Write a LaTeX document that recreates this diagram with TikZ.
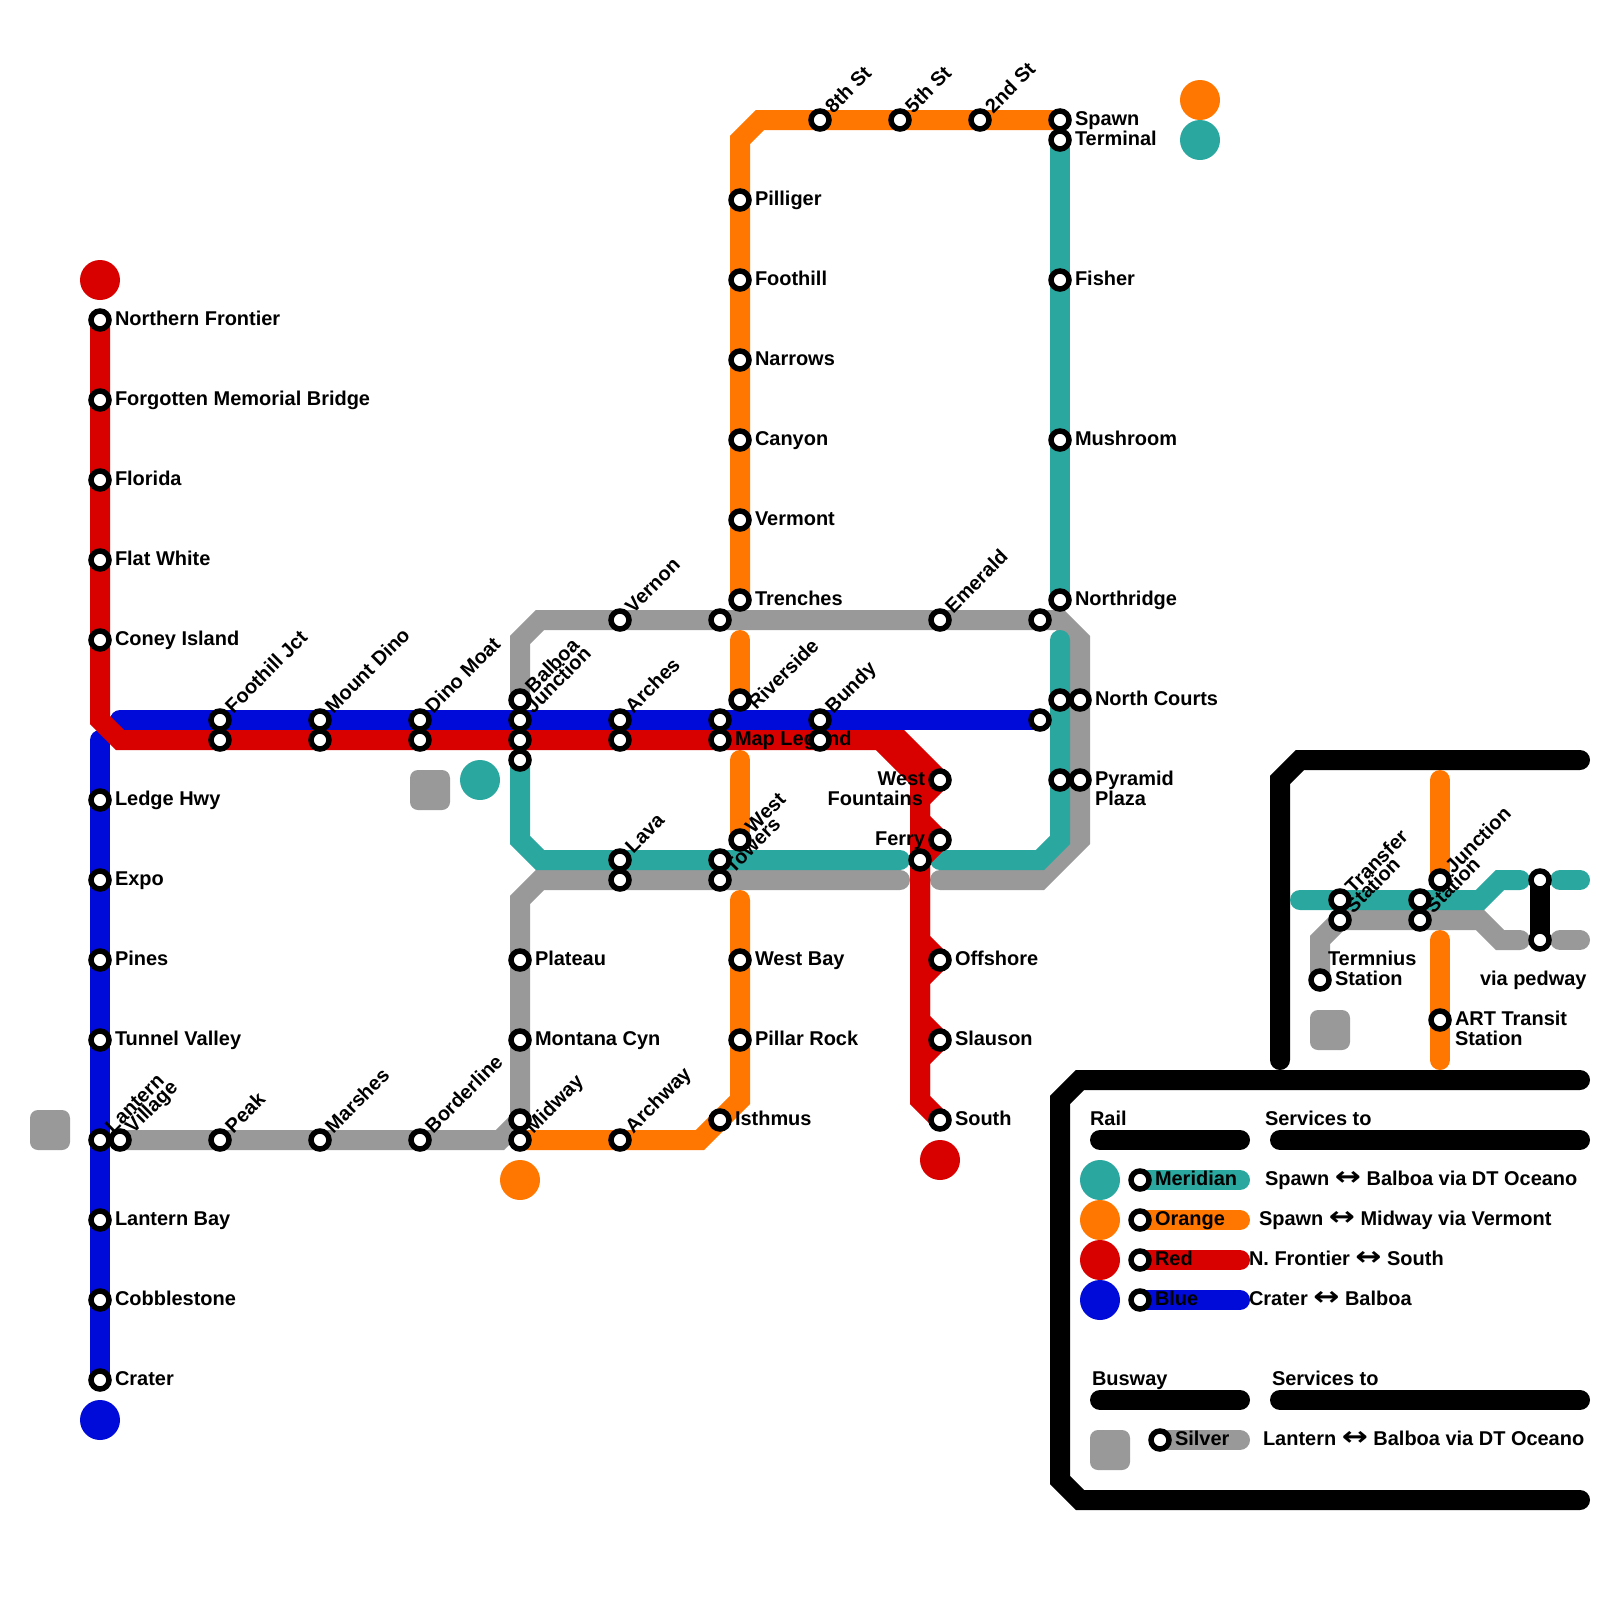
\documentclass[tikz,border=0pt]{standalone}
\usepackage{fontspec}
\setmainfont{Liberation Sans}
\newfontfamily\arrfont{DejaVu Sans}
\definecolor{cteal}{HTML}{2AA79F}
\definecolor{corange}{HTML}{FF7700}
\definecolor{cred}{HTML}{D90000}
\definecolor{cblue}{HTML}{000BD9}
\definecolor{cgray}{HTML}{999999}
\pgfdeclarelayer{lines}
\pgfdeclarelayer{labels}
\pgfsetlayers{lines,labels,main}
\tikzset{
  stn/.style={circle,draw=black,fill=white,line width=0.1375cm,minimum size=0.45cm,inner sep=0pt},
  lab/.style={inner sep=0pt,outer sep=0pt,text=black,font=\fontsize{14.2pt}{14.2pt}\selectfont\bfseries},
  route/.style={line width=0.5cm,line cap=round,line join=miter,miter limit=1.2},
  term/.style={circle,minimum size=1cm,inner sep=0pt},
  busterm/.style={rectangle,rounded corners=0.2cm,minimum size=1cm,inner sep=0pt,fill=cgray}
}
\newcommand\arr{\raisebox{-0.3pt}{\scalebox{1.2}[1]{\fontsize{18.5pt}{14pt}\selectfont\arrfont\bfseries ↔}}}
\newcommand\stn[3]{\node[stn] (#1) at (#2,#3) {};}
\newcommand\lr[2]{\node[lab,anchor=base west] (L#1) at ([shift={(.375cm,-.135cm)}]#1.center) {#2};}
\newcommand\lrr[3]{\node[lab,anchor=base west] (L#1) at ([shift={(.375cm,-.135cm)}]#1.center) {#2};
  \node[lab,anchor=base west] (LL#1) at ([shift={(.375cm,-.635cm)}]#1.center) {#3};}
\newcommand\ld[2]{\node[lab,anchor=base west,rotate=45] (L#1) at ([shift={(.335cm,.15cm)}]#1.center) {#2};}
\newcommand\tx[4]{\node[lab,anchor=base west] (#1) at (#2,#3) {#4};}
\begin{document}
\begin{tikzpicture}[x=0.5cm,y=-0.5cm]
\useasboundingbox (0,0) rectangle (80,80);
% ---- red stations
\stn{nf}{5}{16}\stn{fmb}{5}{20}\stn{flo}{5}{24}\stn{flw}{5}{28}\stn{con}{5}{32}
\stn{rfh}{11}{37}\stn{rmd}{16}{37}\stn{rdm}{21}{37}\stn{rba}{26}{37}\stn{rar}{31}{37}\stn{rml}{36}{37}\stn{rbu}{41}{37}
\stn{wfo}{47}{39}\stn{fer}{47}{42}\stn{fer2}{46}{43}\stn{off}{47}{48}\stn{sla}{47}{52}\stn{sou}{47}{56}
% ---- blue stations
\stn{led}{5}{40}\stn{exp}{5}{44}\stn{pin}{5}{48}\stn{tun}{5}{52}\stn{lan}{5}{57}\stn{lab}{5}{61}\stn{cob}{5}{65}\stn{cra}{5}{69}
\stn{bfh}{11}{36}\stn{bmd}{16}{36}\stn{bdm}{21}{36}\stn{bal}{26}{36}\stn{bar}{31}{36}\stn{bml}{36}{36}\stn{bbu}{41}{36}\stn{bnc}{52}{36}
% ---- grey stations
\stn{vil}{6}{57}\stn{pea}{11}{57}\stn{mar}{16}{57}\stn{bor}{21}{57}\stn{gmw}{26}{56}\stn{mon}{26}{52}\stn{pla}{26}{48}
\stn{gbj}{26}{35}\stn{ver}{31}{31}\stn{gtr}{36}{31}\stn{eme}{47}{31}\stn{gno}{52}{31}
\stn{gnc}{54}{35}\stn{gpp}{54}{39}\stn{glv}{31}{44}\stn{gwt}{36}{44}
% ---- teal stations
\stn{spt}{53}{7}\stn{fis}{53}{14}\stn{mus}{53}{22}\stn{nor}{53}{30}\stn{tnc}{53}{35}\stn{tpp}{53}{39}
\stn{tbj}{26}{38}\stn{lav}{31}{43}\stn{tow}{36}{43}
% ---- orange stations
\stn{spa}{53}{6}\stn{sec}{49}{6}\stn{fif}{45}{6}\stn{eig}{41}{6}
\stn{pil}{37}{10}\stn{foo}{37}{14}\stn{nar}{37}{18}\stn{can}{37}{22}\stn{vmt}{37}{26}\stn{tre}{37}{30}
\stn{riv}{37}{35}\stn{wes}{37}{42}\stn{wba}{37}{48}\stn{pir}{37}{52}\stn{ist}{36}{56}\stn{arw}{31}{57}\stn{mid}{26}{57}
% ---- inset stations
\stn{itr}{67}{45}\stn{its}{67}{46}\stn{ijs}{71}{45}\stn{igs}{71}{46}\stn{ijn}{72}{44}
\stn{ite}{66}{49}\stn{iar}{72}{51}\stn{ipa}{77}{44}\stn{ipb}{77}{47}
% ---- legend stations
\stn{kme}{57}{59}\stn{kor}{57}{61}\stn{kre}{57}{63}\stn{kbl}{57}{65}\stn{ksi}{58}{72}
% ---- terminus markers
\node[term,fill=cred] (tred) at (5,14) {};
\node[term,fill=cblue] (tblue) at (5,71) {};
\node[term,fill=cred] (tred2) at (47,58) {};
\node[term,fill=corange] (tor) at (26,59) {};
\node[term,fill=corange] (tor2) at (60,5) {};
\node[term,fill=cteal] (tte) at (60,7) {};
\node[term,fill=cteal] (tte2) at (24,39) {};
\node[busterm] (bt1) at (2.5,56.5) {};
\node[busterm] (bt2) at (21.5,39.5) {};
\node[busterm] (bt3) at (66.5,51.5) {};
\node[busterm] (bt4) at (55.5,72.5) {};
\node[term,fill=cteal] (k1) at (55,59) {};
\node[term,fill=corange] (k2) at (55,61) {};
\node[term,fill=cred] (k3) at (55,63) {};
\node[term,fill=cblue] (k4) at (55,65) {};
% ---- lines
\begin{pgfonlayer}{lines}
\draw[route,cblue] (6,36) -- (bnc.center);
\draw[route,cblue] (5,37) -- (cra.center);
\draw[route,cgray] (vil.center) -- (25,57) -- (gmw.center) -- (26,45) -- (27,44) -- (45,44);
\draw[route,cgray] (gbj.center) -- (26,32) -- (27,31) -- (53,31) -- (54,32) -- (54,42) -- (52,44) -- (47,44);
\draw[route,cteal] (spt.center) -- (nor.center);
\draw[route,cteal] (53,32) -- (53,42) -- (52,43) -- (47,43);
\draw[route,cteal] (tbj.center) -- (26,42) -- (27,43) -- (45,43);
\draw[route,corange] (spa.center) -- (38,6) -- (37,7) -- (tre.center);
\draw[route,corange] (37,32) -- (riv.center);
\draw[route,corange] (37,38) -- (wes.center);
\draw[route,corange] (37,45) -- (37,55) -- (35,57) -- (mid.center);
\draw[route,cred] (nf.center) -- (5,36) -- (6,37) -- (45,37) -- (wfo.center) -- (46,40) -- (46,41) -- (fer.center) -- (fer2.center) -- (46,47) -- (off.center) -- (46,49) -- (46,51) -- (sla.center) -- (46,53) -- (46,55) -- (sou.center);
\draw[route,cred,line cap=butt] (44,37) -- (46,39) -- (46,55);
% inset
\draw[route,black] (79,38) -- (65,38) -- (64,39) -- (64,53);
\draw[route,corange] (72,39) -- (ijn.center);
\draw[route,corange] (72,47) -- (72,53);
\draw[route,cgray] (ite.center) -- (66,47) -- (its.center) -- (74,46) -- (75,47) -- (76,47);
\draw[route,cgray] (78,47) -- (79,47);
\draw[route,cteal] (65,45) -- (74,45) -- (75,44) -- (76,44);
\draw[route,cteal] (78,44) -- (79,44);
\draw[route,black] (ipa.center) -- (ipb.center);
% legend
\draw[route,black] (79,54) -- (54,54) -- (53,55) -- (53,74) -- (54,75) -- (79,75);
\draw[route,black] (55,57) -- (62,57);
\draw[route,black] (64,57) -- (79,57);
\draw[route,black] (55,70) -- (62,70);
\draw[route,black] (64,70) -- (79,70);
\draw[route,cteal] (kme.center) -- (62,59);
\draw[route,corange] (kor.center) -- (62,61);
\draw[route,cred] (kre.center) -- (62,63);
\draw[route,cblue] (kbl.center) -- (62,65);
\draw[route,cgray] (ksi.center) -- (62,72);
\end{pgfonlayer}
% ---- labels
\begin{pgfonlayer}{labels}
\lr{nf}{Northern Frontier}\lr{fmb}{Forgotten Memorial Bridge}\lr{flo}{Florida}\lr{flw}{Flat White}\lr{con}{Coney Island}
\lr{led}{Ledge Hwy}\lr{exp}{Expo}\lr{pin}{Pines}\lr{tun}{Tunnel Valley}\lr{lab}{Lantern Bay}\lr{cob}{Cobblestone}\lr{cra}{Crater}
\ld{bfh}{Foothill Jct}\ld{bmd}{Mount Dino}\ld{bdm}{Dino Moat}\ld{gbj}{Balboa}\ld{bal}{Junction}\ld{bar}{Arches}
\lr{rml}{Map Legend}
\node[lab,anchor=base west,rotate=45] (Lriv) at ([shift={(.41cm,-.27cm)}]riv.center) {Riverside};
\ld{bbu}{Bundy}\ld{ver}{Vernon}\ld{eme}{Emerald}
\ld{eig}{8th St}\ld{fif}{5th St}\ld{sec}{2nd St}
\lr{spa}{Spawn}\lr{spt}{Terminal}\lr{fis}{Fisher}\lr{mus}{Mushroom}\lr{nor}{Northridge}
\lr{pil}{Pilliger}\lr{foo}{Foothill}\lr{nar}{Narrows}\lr{can}{Canyon}\lr{vmt}{Vermont}\lr{tre}{Trenches}
\lr{gnc}{North Courts}\lrr{gpp}{Pyramid}{Plaza}
\ld{lav}{Lava}\ld{wes}{West}\ld{gwt}{Towers}
\node[lab,anchor=base east] (Lwfo) at ([shift={(-.375cm,-.135cm)}]wfo.center) {West};
\node[lab,anchor=base east] (LLwfo) at ([shift={(-.425cm,-.635cm)}]wfo.center) {Fountains};
\node[lab,anchor=base east] (Lfer) at ([shift={(-.375cm,-.135cm)}]fer.center) {Ferry};
\lr{off}{Offshore}\lr{sla}{Slauson}\lr{sou}{South}
\lr{wba}{West Bay}\lr{pir}{Pillar Rock}\lr{ist}{Isthmus}\lr{pla}{Plateau}\lr{mon}{Montana Cyn}
\ld{lan}{Lantern}\ld{vil}{Village}\ld{pea}{Peak}\ld{mar}{Marshes}\ld{bor}{Borderline}\ld{mid}{Midway}\ld{arw}{Archway}
\ld{itr}{Transfer}\ld{its}{Station}\ld{ijn}{Junction}\ld{igs}{Station}
\tx{Tterm}{66.4}{48.25}{Termnius}
\lr{ite}{Station}
\tx{Tped}{74}{49.25}{via pedway}
\lrr{iar}{ART Transit}{Station}
\tx{Trail}{54.5}{56.25}{Rail}
\tx{Tsv1}{63.25}{56.25}{Services to}
\lr{kme}{Meridian}\lr{kor}{Orange}\lr{kre}{Red}\lr{kbl}{Blue}\lr{ksi}{Silver}
\tx{Tme}{63.25}{59.25}{Spawn \arr{} Balboa via DT Oceano}
\tx{Tor}{62.95}{61.25}{Spawn \arr{} Midway via Vermont}
\tx{Tre}{62.45}{63.25}{N. Frontier \arr{} South}
\tx{Tbl}{62.45}{65.25}{Crater \arr{} Balboa}
\tx{Tbus}{54.6}{69.25}{Busway}
\tx{Tsv2}{63.6}{69.25}{Services to}
\tx{Tsi}{63.15}{72.25}{Lantern \arr{} Balboa via DT Oceano}
\end{pgfonlayer}
\end{tikzpicture}
\end{document}
